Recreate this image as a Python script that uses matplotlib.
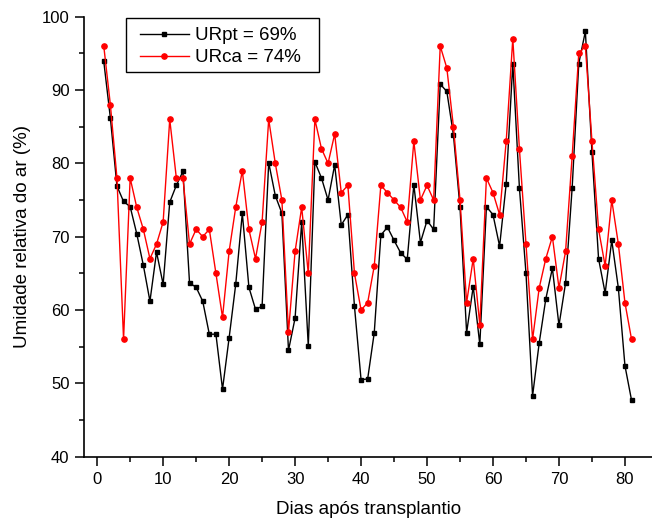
import matplotlib
matplotlib.use("Agg")
import matplotlib.pyplot as plt
from matplotlib.patches import Rectangle
import numpy as np

plt.rcParams['font.family'] = ['Liberation Sans', 'DejaVu Sans']

days = list(range(1, 82))

urpt = [93.9, 86.2, 76.9, 74.8, 74.1, 70.4, 66.1, 61.2, 67.9, 63.5,
        74.7, 77.0, 78.9, 63.7, 63.1, 61.2, 56.7, 56.7, 49.2, 56.2,
        63.5, 73.2, 63.1, 60.1, 60.5, 80.1, 75.6, 73.2, 54.5, 58.9,
        72.0, 55.1, 80.2, 78.0, 75.0, 79.8, 71.6, 73.0, 60.5, 50.5,
        50.6, 56.9, 70.2, 71.3, 69.5, 67.8, 66.9, 77.1, 69.2, 72.2,
        71.0, 90.8, 89.8, 83.9, 74.0, 56.9, 63.2, 55.3, 74.1, 73.0,
        68.7, 77.2, 93.6, 76.7, 65.0, 48.3, 55.5, 61.5, 65.7, 57.9,
        63.7, 76.7, 93.6, 98.0, 81.5, 67.0, 62.3, 69.5, 63.0, 52.4,
        47.7]

urca = [96, 88, 78, 56, 78, 74, 71, 67, 69, 72,
        86, 78, 78, 69, 71, 70, 71, 65, 59, 68,
        74, 79, 71, 67, 72, 86, 80, 75, 57, 68,
        74, 65, 86, 82, 80, 84, 76, 77, 65, 60,
        61, 66, 77, 76, 75, 74, 72, 83, 75, 77,
        75, 96, 93, 85, 75, 61, 67, 58, 78, 76,
        73, 83, 97, 82, 69, 56, 63, 67, 70, 63,
        68, 81, 95, 96, 83, 71, 66, 75, 69, 61,
        56]

labels = ['URpt = 69%', 'URca = 74%']

fig = plt.figure(figsize=(6.52, 5.23), dpi=100)
ax = fig.add_axes([0.1293, 0.1268, 0.8707, 0.8413])

ax.plot(days, urpt, color='black', lw=1.0, marker='s', ms=3.2,
        mec='black', mfc='black', label=labels[0])
ax.plot(days, urca, color='red', lw=1.0, marker='o', ms=3.8,
        mec='red', mfc='red', label=labels[1])

ax.set_xlim(-1.95, 84.1)
ax.set_ylim(40, 100)
ax.set_xticks(np.arange(0, 81, 10))
ax.set_xticks(np.arange(5, 85, 10), minor=True)
ax.set_yticks(np.arange(40, 101, 10))
ax.set_yticks(np.arange(45, 100, 10), minor=True)

for s in ['top', 'right']:
    ax.spines[s].set_visible(False)
for s in ['left', 'bottom']:
    ax.spines[s].set_linewidth(1.2)

ax.tick_params(which='major', direction='out', length=6.7, width=1.1,
               labelsize=12)
ax.tick_params(axis='x', which='major', pad=4.5)
ax.tick_params(axis='y', which='major', pad=4)
ax.tick_params(which='minor', direction='out', length=3.6, width=1.1)

ax.set_xlabel('Dias após transplantio', fontsize=13.5, labelpad=10)
ax.set_ylabel('Umidade relativa do ar (%)', fontsize=13.5, labelpad=8)

# legend frame
frame = Rectangle((0.0729, 0.875), 0.4134 - 0.0729, 0.9977 - 0.875,
                  transform=ax.transAxes, facecolor='white',
                  edgecolor='black', lw=1.0, zorder=4.5, clip_on=False)
ax.add_patch(frame)

leg = ax.legend(loc='upper left', bbox_to_anchor=(0.0981, 0.9766),
                borderaxespad=0, frameon=False, fontsize=13.5, numpoints=1,
                handlelength=2.61, handletextpad=0.32, borderpad=0,
                labelspacing=0.28)

fig.savefig('out.png', dpi=100)
